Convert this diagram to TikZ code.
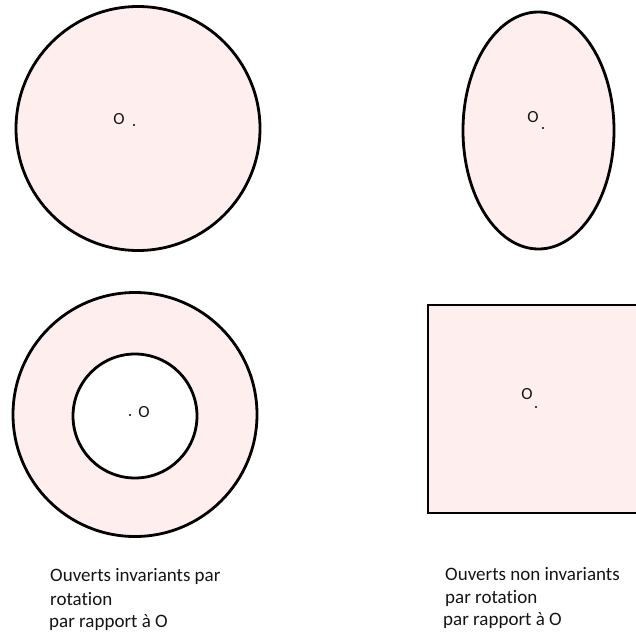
\documentclass[tikz,border=0pt]{standalone}
\usepackage{fontspec}
\setmainfont[Ligatures={NoCommon}]{Carlito}
\definecolor{rosefill}{HTML}{FEEFEE}
\definecolor{labelcol}{HTML}{141414}
\begin{document}
\begin{tikzpicture}[x=1pt,y=-1pt,
  openset/.style={draw=black,line width=2.8pt,fill=rosefill},
  holeset/.style={draw=black,line width=2.8pt,fill=white},
  ptdot/.style={circle,fill=black,inner sep=0pt,minimum size=2.2pt},
  olabel/.style={inner sep=0pt,font=\fontsize{17}{19}\selectfont,text=labelcol},
  caption/.style={inner sep=0pt,anchor=west,font=\fontsize{19}{22}\selectfont,text=labelcol}]
\useasboundingbox (0,0) rectangle (636,637);
\clip (0,0) rectangle (636,637);
% top-left disc
\draw[openset] (138,128.5) circle (122);
\node[ptdot] (d1) at (134,125) {};
\node[olabel] (o1) at (119,119) {O};
% ellipse
\draw[openset] (538.5,130.5) ellipse (75.5 and 118.5);
\node[ptdot] (d2) at (543,128) {};
\node[olabel] (o2) at (533,117) {O};
% annulus
\draw[openset] (135,414.5) circle (122);
\draw[holeset] (135,416) circle (62);
\node[ptdot] (d3) at (130,415) {};
\node[olabel] (o3) at (144,412) {O};
% square
\draw[openset] (428,305) rectangle (650,513);
\node[ptdot] (d4) at (536,407) {};
\node[olabel] (o4) at (527,394) {O};
% captions
\node[caption] (l1) at (50,576) {Ouverts invariants par};
\node[caption] (l2) at (50,599) {rotation};
\node[caption] (l3) at (49,623) {par rapport à O};
\node[caption] (r1) at (445,574) {Ouverts non invariants};
\node[caption] (r2) at (445,598) {par rotation};
\node[caption] (r3) at (443,621) {par rapport à O};
\end{tikzpicture}
\end{document}
